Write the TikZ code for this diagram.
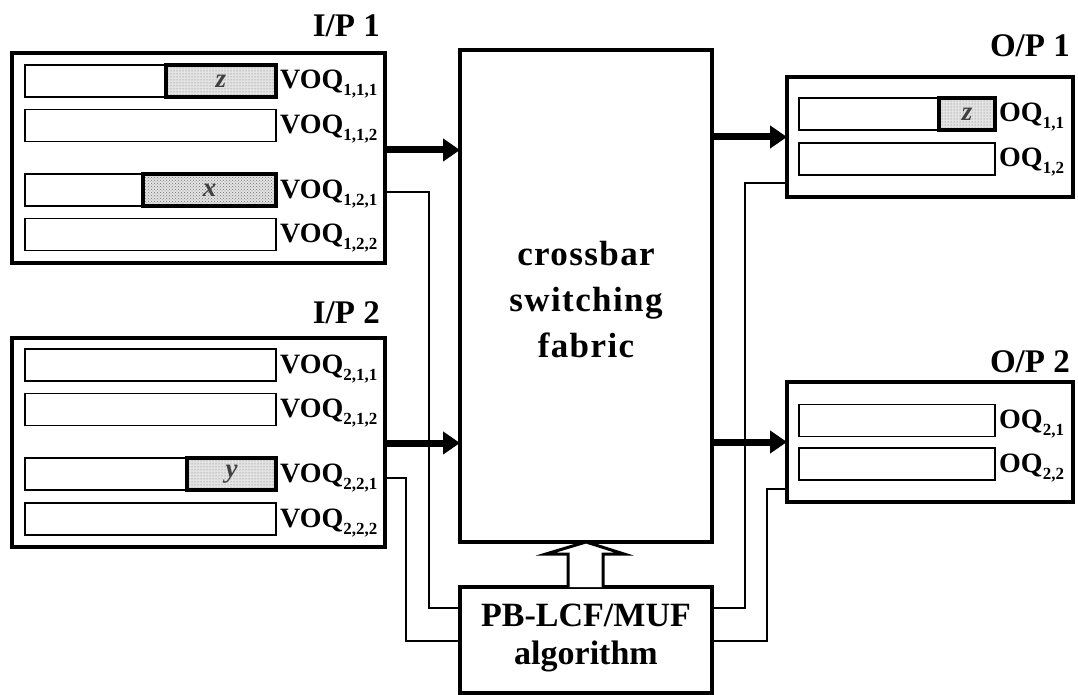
\documentclass[tikz,border=0pt]{standalone}
\usepackage{fontspec}
\setmainfont{Liberation Serif}
\usetikzlibrary{arrows.meta,patterns}
\newcommand{\qsub}[1]{\raisebox{-7pt}{\fontsize{17}{17}\selectfont #1}}
\begin{document}
\begin{tikzpicture}[x=1pt,y=-1pt,
  bigbox/.style={draw, line width=3.8pt, inner sep=0pt, outer sep=0pt},
  qbox/.style={draw, line width=1.6pt, inner sep=0pt, outer sep=0pt, minimum height=32pt},
  hatchcell/.style={draw, line width=3.6pt, inner sep=0pt, outer sep=0pt, minimum height=32pt,
     preaction={fill=gray!22}, pattern=dots, pattern color=black!55,
     font=\fontsize{27}{27}\selectfont\bfseries\itshape, text=black!75},
  hatchcellb/.style={hatchcell, pattern=crosshatch dots},
  qlabel/.style={anchor=base west, inner sep=0pt, font=\fontsize{28}{28}\selectfont\bfseries},
  header/.style={anchor=base east, inner sep=0pt, font=\fontsize{33}{33}\selectfont\bfseries},
  thickarrow/.style={line width=7pt, -{Triangle[length=17pt,width=22pt]}},
  thinline/.style={line width=1.4pt}
]
\useasboundingbox (0,0) rectangle (1078,695);

% ---------- I/P 1 ----------
\node[bigbox, minimum width=373pt, minimum height=210pt] (ip1) at (198.5,158) {};
\node[header] (ip1lbl) at (380,37) {I/P 1};
\node[qbox, minimum width=251pt] (q111) at (150.5,81) {};
\node[qbox, minimum width=251pt] (q112) at (150.5,125.5) {};
\node[qbox, minimum width=251pt] (q121) at (150.5,190) {};
\node[qbox, minimum width=251pt] (q122) at (150.5,234.5) {};
\node[hatchcell, minimum width=110pt] (c111) at (221,81) {z};
\node[hatchcellb, minimum width=133pt] (c121) at (209.5,190) {x};
\node[qlabel] (l111) at (280,89) {VOQ\qsub{1,1,1}};
\node[qlabel] (l112) at (280,133.5) {VOQ\qsub{1,1,2}};
\node[qlabel] (l121) at (280,198) {VOQ\qsub{1,2,1}};
\node[qlabel] (l122) at (280,242.5) {VOQ\qsub{1,2,2}};

% ---------- I/P 2 ----------
\node[bigbox, minimum width=373pt, minimum height=209pt] (ip2) at (198.5,442.5) {};
\node[header] (ip2lbl) at (380,323) {I/P 2};
\node[qbox, minimum width=251pt] (q211) at (150.5,365) {};
\node[qbox, minimum width=251pt] (q212) at (150.5,409.5) {};
\node[qbox, minimum width=251pt] (q221) at (150.5,474) {};
\node[qbox, minimum width=251pt] (q222) at (150.5,519) {};
\node[hatchcell, minimum width=89pt] (c221) at (231.5,474) {y};
\node[qlabel] (l211) at (280,373) {VOQ\qsub{2,1,1}};
\node[qlabel] (l212) at (280,417.5) {VOQ\qsub{2,1,2}};
\node[qlabel] (l221) at (280,482) {VOQ\qsub{2,2,1}};
\node[qlabel] (l222) at (280,527) {VOQ\qsub{2,2,2}};

% ---------- fabric ----------
\node[bigbox, minimum width=252pt, minimum height=492pt] (fab) at (586,296) {};
\node[align=center, inner sep=0pt, font=\fontsize{35}{46}\selectfont\bfseries\addfontfeatures{LetterSpace=4}] (fabtxt) at (586,300)
  {crossbar\\switching\\fabric};

% ---------- algorithm ----------
\node[bigbox, minimum width=252pt, minimum height=106pt] (alg) at (586,640) {};
\node[align=center, inner sep=0pt, font=\fontsize{34}{38}\selectfont\bfseries] (algtxt) at (586,638)
  {PB-LCF/MUF\\algorithm};

% ---------- O/P 1 ----------
\node[bigbox, minimum width=286pt, minimum height=120pt] (op1) at (930,137) {};
\node[header] (op1lbl) at (1070,57) {O/P 1};
\node[qbox, minimum width=196pt] (o11) at (897,114) {};
\node[qbox, minimum width=196pt] (o12) at (897,159) {};
\node[hatchcell, minimum width=56pt] (c11) at (967,114) {z};
\node[qlabel] (lo11) at (999,122) {OQ\qsub{1,1}};
\node[qlabel] (lo12) at (999,167) {OQ\qsub{1,2}};

% ---------- O/P 2 ----------
\node[bigbox, minimum width=286pt, minimum height=120pt] (op2) at (930,442) {};
\node[header] (op2lbl) at (1070,372) {O/P 2};
\node[qbox, minimum width=196pt] (o21) at (897,420.5) {};
\node[qbox, minimum width=196pt] (o22) at (897,464) {};
\node[qlabel] (lo21) at (999,428.5) {OQ\qsub{2,1}};
\node[qlabel] (lo22) at (999,472) {OQ\qsub{2,2}};

% ---------- thick data arrows ----------
\draw[thickarrow] (ip1.east |- 0,150) -- (fab.west |- 0,150);
\draw[thickarrow] (ip2.east |- 0,443) -- (fab.west |- 0,443);
\draw[thickarrow] (fab.east |- op1.west) -- (op1.west);
\draw[thickarrow] (fab.east |- op2.west) -- (op2.west);

% ---------- thin request/grant lines ----------
\draw[thinline] (ip1.east |- 0,192) -| (429,608) -- (alg.west |- 0,608);
\draw[thinline] (ip2.east |- 0,478) -| (406,641) -- (alg.west |- 0,641);
\draw[thinline] (alg.east |- 0,608) -| (745,183) -- (op1.west |- 0,183);
\draw[thinline] (alg.east |- 0,641) -| (767,489) -- (op2.west |- 0,489);

% ---------- hollow control arrow ----------
\draw[line width=3pt, fill=white, line join=miter]
  (alg.north -| 568,0) -- (568,554) -- (546,554) -- (fab.south) -- (624,554) -- (603,554) -- (alg.north -| 603,0);
\end{tikzpicture}
\end{document}
